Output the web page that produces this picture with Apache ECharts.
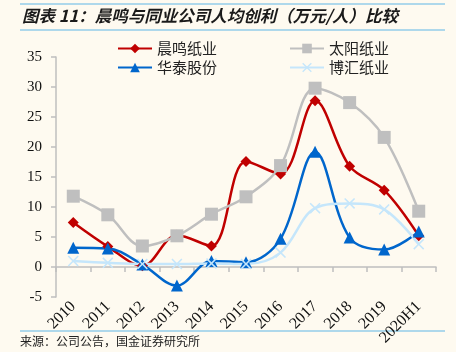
<!DOCTYPE html>
<html>
<head>
<meta charset="utf-8">
<script src="https://cdn.jsdelivr.net/npm/echarts@6/dist/echarts.min.js"></script>
<style>
  html, body { margin: 0; padding: 0; background: #fefaf0; }
  #chart { width: 456px; height: 352px; }
</style>
</head>
<body>
<div id="chart"></div>
<script>
// 人均创利（万元/人）
const years = ['2010', '2011', '2012', '2013', '2014', '2015', '2016', '2017', '2018', '2019', '2020H1'];
const chenming = [7.4, 3.4, 0.2, 5.3, 3.5, 17.6, 15.5, 27.7, 16.8, 12.8, 5.2];
const taiyang = [11.8, 8.7, 3.5, 5.2, 8.8, 11.7, 16.9, 29.8, 27.4, 21.6, 9.3];
const huatai = [3.2, 3.1, 0.4, -3.1, 1.0, 0.8, 4.7, 19.2, 4.9, 2.9, 5.9];
const bohui = [1.0, 0.7, 0.5, 0.5, 0.6, 0.5, 2.4, 9.8, 10.6, 9.6, 3.8];
const yTicks = { min: -5, max: 35, interval: 5 };

const SERIF = '"Liberation Serif", "Times New Roman", serif';
const CJK = '"Noto Sans CJK SC", sans-serif';
const CROSS = 'path://M0,1L1,0L5,4L9,0L10,1L6,5L10,9L9,10L5,6L1,10L0,9L4,5Z';
const RULE = '#5fb6e6';

const mkSeries = (name, data, color, symbol, size) => ({
    name,
    type: 'line',
    data,
    smooth: 0.35,
    symbol,
    symbolSize: size,
    lineStyle: { color, width: 2.5 },
    itemStyle: { color },
    emphasis: { disabled: true }
});

const legendText = { fontFamily: CJK, fontSize: 15, color: '#222' };

const chart = echarts.init(document.getElementById('chart'));
chart.setOption({
    backgroundColor: '#fefaf0',
    animation: false,
    grid: { left: 56, right: 20, top: 57, bottom: 55 },
    legend: [
        {
            data: ['晨鸣纸业', '太阳纸业'],
            left: 112, top: 36, itemWidth: 34, itemHeight: 12, itemGap: 72,
            textStyle: legendText
        },
        {
            data: ['华泰股份', '博汇纸业'],
            left: 112, top: 55, itemWidth: 34, itemHeight: 12, itemGap: 72,
            textStyle: legendText
        }
    ],
    xAxis: {
        type: 'category',
        data: years,
        axisLine: { onZero: true, lineStyle: { color: '#bfbfbf', width: 1.5 } },
        axisTick: { show: true, length: 5, lineStyle: { color: '#bfbfbf', width: 1.5 } },
        axisLabel: { rotate: 45, fontFamily: SERIF, fontSize: 16, color: '#111', margin: 7 },
        splitLine: { show: false }
    },
    yAxis: {
        type: 'value',
        ...yTicks,
        axisLine: { show: true, lineStyle: { color: '#bfbfbf', width: 1.5 } },
        axisTick: { show: true, length: 5, lineStyle: { color: '#bfbfbf', width: 1.5 } },
        axisLabel: { fontFamily: SERIF, fontSize: 15, color: '#111', margin: 14 },
        splitLine: { show: false }
    },
    series: [
        mkSeries('晨鸣纸业', chenming, '#c00000', 'diamond', 11),
        mkSeries('太阳纸业', taiyang, '#bfbfbf', 'rect', 13),
        mkSeries('华泰股份', huatai, '#0066cc', 'triangle', 12),
        mkSeries('博汇纸业', bohui, '#c5e6fb', CROSS, 11)
    ],
    graphic: [
        { type: 'line', shape: { x1: 20, y1: 4, x2: 445, y2: 4 }, style: { stroke: RULE, lineWidth: 1 } },
        { type: 'line', shape: { x1: 20, y1: 30, x2: 445, y2: 30 }, style: { stroke: RULE, lineWidth: 1 } },
        { type: 'line', shape: { x1: 20, y1: 331, x2: 445, y2: 331 }, style: { stroke: RULE, lineWidth: 1 } },
        {
            type: 'text', left: 22, top: 7,
            style: {
                text: '图表 11：晨鸣与同业公司人均创利（万元/人）比较',
                font: 'italic bold 16.5px ' + CJK, fill: '#1a1a1a'
            }
        },
        {
            type: 'text', left: 20, top: 335,
            style: { text: '来源：公司公告，国金证券研究所', font: '12px ' + CJK, fill: '#222' }
        }
    ]
});
</script>
</body>
</html>
